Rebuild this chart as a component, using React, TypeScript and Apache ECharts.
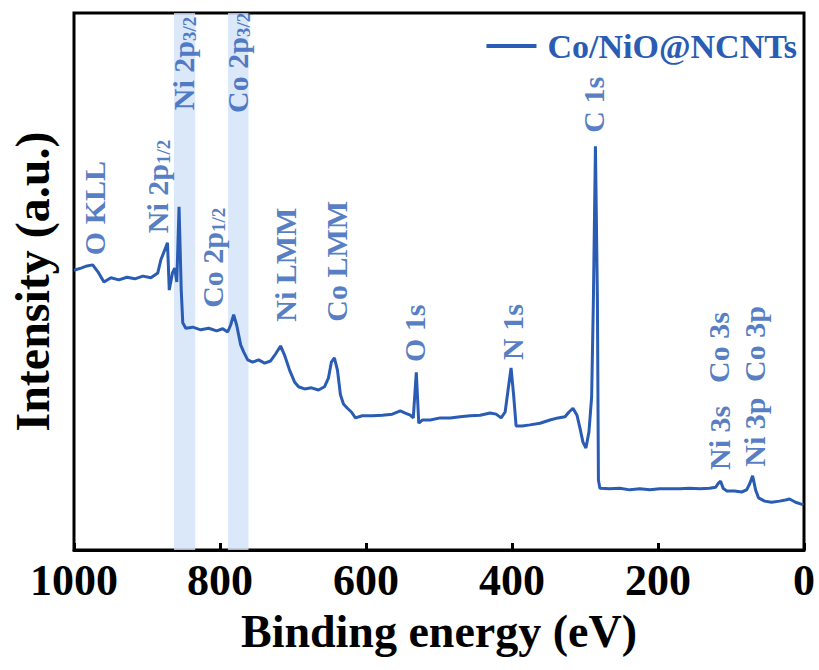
import React, { useEffect, useRef } from "react";
import * as echarts from "echarts";

// XPS survey spectrum of Co/NiO@NCNTs
const energy = [
  1000, 990.4, 982.2, 974.4, 967.2, 959.0, 949.4, 938.5, 927.5, 916.6, 905.7, 894.7, 885.2, 881.1,
  871.9, 869.5, 865.1, 862.0, 859.2, 856.1, 853.1, 851.0, 846.9, 837.3, 826.4, 815.5, 804.5, 796.3,
  789.5, 785.4, 781.3, 777.2, 771.7, 767.6, 762.1, 755.3, 747.1, 738.9, 730.7, 723.9, 717.0, 711.6,
  704.7, 697.9, 692.4, 684.2, 674.7, 665.1, 656.9, 651.5, 647.4, 643.3, 639.1, 635.0, 630.9, 625.5,
  620.0, 614.5, 605.1, 591.3, 577.6, 564.0, 553.0, 546.2, 539.3, 535.2, 531.1, 527.7, 522.9, 512.0,
  498.3, 484.6, 471.0, 457.3, 443.6, 430.0, 421.8, 414.9, 409.4, 405.4, 401.3, 397.8, 394.4, 386.2,
  375.3, 361.6, 347.9, 337.0, 327.4, 321.9, 316.5, 311.0, 306.9, 302.8, 298.7, 294.6, 290.9, 288.5,
  285.7, 283.0, 281.6, 279.6, 265.9, 252.2, 238.6, 224.9, 211.2, 197.6, 183.9, 170.2, 156.6, 142.9,
  129.2, 121.0, 116.9, 114.2, 110.8, 106.0, 95.0, 85.5, 78.6, 74.5, 70.4, 66.3, 62.2, 54.0, 44.5,
  33.5, 25.3, 19.8, 11.6, 4.8, 0.7,
];
const intensity = [
  52.1, 52.5, 52.9, 53.1, 51.8, 49.9, 50.7, 50.3, 50.8, 50.5, 51.0, 50.7, 51.6, 54.0,
  57.2, 48.4, 51.6, 52.5, 49.9, 63.9, 48.4, 42.3, 41.3, 41.5, 41.0, 41.3, 40.8, 41.2,
  40.6, 41.9, 43.8, 41.9, 38.2, 36.9, 35.4, 35.0, 35.4, 34.8, 35.2, 36.5, 38.0, 36.3,
  33.5, 31.3, 30.4, 30.0, 30.2, 29.8, 30.4, 32.0, 35.0, 35.8, 33.5, 28.9, 27.2, 26.4,
  25.7, 24.6, 25.0, 25.0, 25.1, 25.3, 25.9, 25.5, 25.1, 24.6, 33.1, 23.6, 24.2, 24.2,
  24.6, 24.6, 24.8, 25.0, 25.1, 25.5, 25.3, 24.6, 25.7, 29.8, 33.9, 28.9, 23.1, 23.1,
  23.3, 23.6, 24.2, 24.6, 24.8, 25.7, 26.4, 25.1, 22.7, 20.1, 19.0, 22.0, 28.5, 46.6,
  75.2, 46.6, 13.0, 11.5, 11.4, 11.5, 11.2, 11.4, 11.2, 11.4, 11.4, 11.4, 11.5, 11.4,
  11.5, 11.7, 12.5, 12.8, 11.5, 11.0, 11.0, 10.8, 11.2, 12.3, 13.8, 11.2, 9.7, 9.1, 8.9,
  9.1, 9.3, 9.5, 8.9, 8.6, 8.4,
];

// Peak assignments: label text and the (energy, intensity) where each label starts
const peakNames = [
  "O KLL", "Ni 2p{s|1/2}", "Ni 2p{s|3/2}", "Co 2p{s|3/2}", "Co 2p{s|1/2}", "Ni LMM", "Co LMM",
  "O 1s", "N 1s", "C 1s", "Ni 3s", "Co 3s", "Ni 3p", "Co 3p",
];
const peakEnergy = [971.3, 885.2, 849.6, 775.8, 810.4, 710.2, 640.5, 533.9, 399.9, 287.8, 115.6, 116.9, 67.7, 67.7];
const peakHeight = [54.9, 59.0, 81.9, 81.4, 45.1, 42.5, 42.5, 35.0, 35.4, 77.7, 14.9, 31.1, 15.5, 31.3];

// Highlighted 2p3/2 regions (eV)
const bandRanges = [
  [863, 834],
  [789, 761],
];

const xTicks = { min: 0, max: 1000, interval: 200 };

const BLUE = "#2a5cb4";
const FONT = "'Liberation Serif', 'Times New Roman', serif";

export default function App() {
  const ref = useRef<HTMLDivElement>(null);

  useEffect(() => {
    if (!ref.current) return;
    const chart = echarts.init(ref.current, undefined, { renderer: "svg" });
    chart.setOption({
      animation: false,
      backgroundColor: "#fff",
      grid: {
        left: 73,
        right: 15,
        top: 13,
        bottom: 120,
        show: true,
        borderColor: "#000",
        borderWidth: 3,
      },
      legend: {
        data: ["Co/NiO@NCNTs"],
        right: 22,
        top: 29,
        padding: 0,
        icon: "rect",
        itemWidth: 50,
        itemHeight: 4,
        textStyle: {
          color: BLUE,
          fontFamily: FONT,
          fontWeight: "bold",
          fontSize: 34,
          padding: [0, 0, 0, 6],
        },
      },
      xAxis: {
        type: "value",
        inverse: true,
        min: xTicks.min,
        max: xTicks.max,
        interval: xTicks.interval,
        name: "Binding energy (eV)",
        nameLocation: "middle",
        nameGap: 58,
        nameTextStyle: { color: "#000", fontFamily: FONT, fontWeight: "bold", fontSize: 46 },
        axisLine: { show: true, lineStyle: { color: "#000", width: 3 } },
        axisTick: { show: true, inside: true, length: 7, lineStyle: { color: "#000", width: 3 } },
        axisLabel: {
          color: "#000",
          fontFamily: FONT,
          fontWeight: "bold",
          fontSize: 44,
          margin: 8,
          formatter: (v: number) => String(v),
        },
        splitLine: { show: false },
      },
      yAxis: {
        type: "value",
        min: 0,
        max: 100,
        name: "Intensity (a.u.)",
        nameLocation: "middle",
        nameRotate: 90,
        nameGap: 18,
        nameTextStyle: { color: "#000", fontFamily: FONT, fontWeight: "bold", fontSize: 48 },
        axisLine: { show: false },
        axisTick: { show: false },
        axisLabel: { show: false },
        splitLine: { show: false },
      },
      series: [
        {
          name: "bands",
          type: "line",
          data: [],
          z: 1,
          silent: true,
          markArea: {
            silent: true,
            itemStyle: { color: "rgba(210, 226, 249, 0.8)" },
            data: bandRanges.map(([a, b]) => [{ xAxis: a }, { xAxis: b }]),
          },
        },
        {
          name: "Co/NiO@NCNTs",
          type: "line",
          z: 3,
          symbol: "none",
          showSymbol: false,
          lineStyle: { color: BLUE, width: 3 },
          itemStyle: { color: BLUE },
          data: energy.map((e, i) => [e, intensity[i]]),
        },
        {
          name: "peaks",
          type: "scatter",
          z: 4,
          symbolSize: 0,
          silent: true,
          data: peakNames.map((n, i) => ({ value: [peakEnergy[i], peakHeight[i]], name: n })),
          label: {
            show: true,
            position: [0, 0],
            rotate: 90,
            align: "left",
            verticalAlign: "middle",
            formatter: (p: any) => p.name,
            color: BLUE,
            fontFamily: FONT,
            fontWeight: "bold",
            fontSize: 30,
            rich: {
              s: {
                color: BLUE,
                fontFamily: FONT,
                fontWeight: "bold",
                fontSize: 19,
                verticalAlign: "bottom",
                padding: [12, 0, 0, 0],
              },
            },
          },
        },
      ],
    });
    return () => chart.dispose();
  }, []);

  return (
    <div
      ref={ref}
      style={{ position: "absolute", left: 0, top: 0, width: 819, height: 670 }}
    />
  );
}
